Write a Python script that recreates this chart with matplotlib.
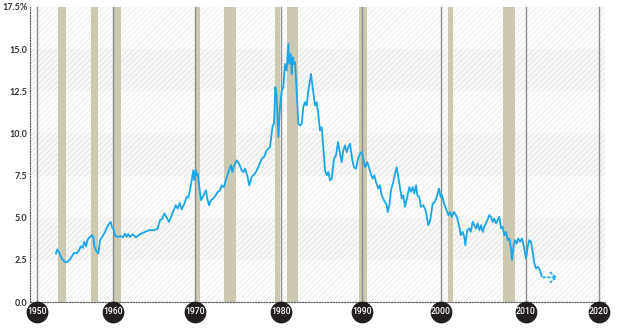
# 10-year yield with recession bands, decade markers as dark circles
import numpy as np
import matplotlib.pyplot as plt

plt.rcParams['hatch.linewidth'] = 0.5

# decade ticks and where they sit on the original (slightly uneven) axis
decades = [1950, 1960, 1970, 1980, 1990, 2000, 2010, 2020]
decade_pos = [37, 113, 195, 281, 362, 441, 526, 599]

# recession periods (start, end) in years
rec_start = [1952.76, 1957.11, 1960.0, 1970.0, 1973.37, 1979.30, 1980.74, 1989.62, 2000.82, 2007.29]
rec_end = [1953.82, 1958.03, 1960.98, 1970.58, 1974.77, 1979.88, 1982.10, 1990.63, 2001.41, 2008.71]

# yield series (%)
years = [1952.50, 1952.67, 1952.86, 1953.25, 1953.68, 1953.99, 1954.43, 1954.87, 1955.22, 1955.57,
         1955.75, 1956.01, 1956.22, 1956.45, 1956.67, 1956.97, 1957.24, 1957.41, 1957.54, 1957.86,
         1958.07, 1958.29, 1958.64, 1958.95, 1959.25, 1959.51, 1959.70, 1959.87, 1960.04, 1960.28,
         1960.65, 1960.94, 1961.18, 1961.46, 1961.67, 1961.87, 1962.07, 1962.40, 1962.80, 1963.29,
         1963.90, 1964.43, 1965.00, 1965.45, 1965.73, 1966.01, 1966.26, 1966.55, 1966.83, 1967.16,
         1967.48, 1967.65, 1967.89, 1968.13, 1968.38, 1968.70, 1968.99, 1969.18, 1969.39, 1969.60,
         1969.79, 1969.91, 1970.08, 1970.20, 1970.31, 1970.50, 1970.70, 1970.90, 1971.08, 1971.28,
         1971.43, 1971.63, 1971.86, 1972.13, 1972.41, 1972.64, 1972.91, 1973.10, 1973.37, 1973.57,
         1973.76, 1973.95, 1974.19, 1974.34, 1974.57, 1974.85, 1975.12, 1975.43, 1975.62, 1975.81,
         1976.08, 1976.31, 1976.59, 1976.98, 1977.36, 1977.76, 1978.02, 1978.34, 1978.72, 1979.03,
         1979.19, 1979.34, 1979.50, 1979.69, 1979.88, 1980.09, 1980.28, 1980.49, 1980.70, 1980.90,
         1981.02, 1981.20, 1981.32, 1981.44, 1981.60, 1981.73, 1981.94, 1982.14, 1982.35, 1982.56,
         1982.75, 1982.96, 1983.17, 1983.37, 1983.58, 1983.70, 1983.91, 1984.20, 1984.41, 1984.60,
         1984.81, 1985.02, 1985.22, 1985.43, 1985.64, 1985.84, 1986.05, 1986.26, 1986.54, 1986.79,
         1987.04, 1987.28, 1987.49, 1987.69, 1987.90, 1988.11, 1988.31, 1988.52, 1988.77, 1989.01,
         1989.26, 1989.51, 1989.75, 1989.96, 1990.16, 1990.38, 1990.67, 1990.92, 1991.18, 1991.35,
         1991.56, 1991.77, 1992.06, 1992.28, 1992.49, 1992.78, 1993.13, 1993.25, 1993.46, 1993.67,
         1993.96, 1994.18, 1994.39, 1994.59, 1994.81, 1995.03, 1995.23, 1995.44, 1995.73, 1995.99,
         1996.20, 1996.42, 1996.62, 1996.84, 1997.00, 1997.25, 1997.47, 1997.76, 1998.06, 1998.39,
         1998.61, 1998.95, 1999.21, 1999.46, 1999.75, 1999.96, 2000.12, 2000.35, 2000.59, 2000.86,
         2001.06, 2001.29, 2001.53, 2001.76, 2001.92, 2002.15, 2002.32, 2002.55, 2002.74, 2002.86,
         2003.09, 2003.33, 2003.49, 2003.73, 2003.92, 2004.12, 2004.32, 2004.51, 2004.71, 2004.91,
         2005.09, 2005.29, 2005.45, 2005.68, 2005.88, 2006.08, 2006.27, 2006.47, 2006.67, 2006.86,
         2007.06, 2007.26, 2007.45, 2007.65, 2007.85, 2008.04, 2008.20, 2008.35, 2008.51, 2008.71,
         2008.91, 2009.09, 2009.29, 2009.53, 2009.76, 2010.00, 2010.23, 2010.45, 2010.68, 2010.92,
         2011.14, 2011.37, 2011.60, 2011.82, 2012.15]
rates = [2.88, 3.12, 2.98, 2.58, 2.37, 2.37, 2.58, 2.92, 2.88, 3.08,
         3.31, 3.21, 3.57, 3.31, 3.71, 3.86, 3.96, 3.83, 3.31, 2.98,
         2.88, 3.67, 3.91, 4.16, 4.46, 4.66, 4.75, 4.42, 4.36, 3.91,
         3.86, 3.91, 3.83, 4.06, 3.86, 4.02, 3.86, 4.02, 3.83, 4.02,
         4.16, 4.26, 4.26, 4.36, 4.85, 4.95, 5.25, 5.01, 4.75, 5.15,
         5.54, 5.74, 5.54, 5.88, 5.49, 5.84, 6.23, 6.19, 6.63, 7.22,
         7.81, 7.22, 7.85, 7.51, 7.62, 6.82, 6.04, 6.23, 6.43, 6.63,
         6.14, 5.74, 6.04, 6.14, 6.33, 6.53, 6.63, 6.92, 6.82, 7.22,
         7.51, 7.81, 8.11, 7.71, 8.11, 8.40, 8.21, 7.81, 7.71, 7.91,
         7.51, 6.92, 7.42, 7.62, 8.00, 8.50, 8.60, 8.99, 9.19, 10.47,
         10.57, 12.74, 12.15, 9.78, 11.56, 12.54, 12.74, 14.12, 13.73, 15.31,
         14.12, 14.71, 13.53, 14.52, 14.12, 14.22, 12.44, 10.57, 10.47, 10.57,
         11.56, 11.85, 11.66, 12.54, 13.14, 13.53, 12.74, 11.66, 11.85, 11.17,
         10.18, 10.37, 9.19, 7.81, 7.51, 7.71, 7.22, 7.32, 8.50, 8.70,
         9.49, 8.80, 8.30, 8.99, 9.29, 8.89, 9.19, 9.39, 8.50, 8.00,
         7.91, 8.50, 8.80, 8.89, 8.50, 8.00, 8.30, 7.91, 7.51, 7.32,
         7.51, 7.12, 6.73, 6.92, 6.33, 6.04, 5.74, 5.34, 5.74, 6.63,
         7.12, 7.62, 8.00, 7.42, 6.82, 6.14, 6.33, 5.64, 6.23, 6.82,
         6.53, 6.82, 6.43, 6.92, 6.33, 6.23, 5.64, 5.74, 5.44, 4.56,
         4.80, 5.84, 5.93, 6.23, 6.73, 6.23, 6.33, 5.84, 5.54, 5.15,
         5.34, 5.05, 5.34, 5.15, 4.95, 4.46, 3.96, 4.16, 3.86, 3.37,
         4.26, 4.36, 4.16, 4.75, 4.56, 4.36, 4.66, 4.26, 4.56, 4.16,
         4.46, 4.66, 4.85, 5.15, 5.05, 4.75, 4.95, 4.66, 4.85, 5.05,
         4.36, 4.46, 3.96, 4.16, 3.67, 3.77, 3.27, 2.49, 3.27, 3.67,
         3.47, 3.77, 3.57, 3.77, 3.27, 2.58, 3.27, 3.67, 3.57, 2.98,
         2.29, 1.99, 2.09, 1.99, 1.54]

# dotted "outlook" arrow
fc_years = [2012.37, 2014.30]
fc_rates = [1.46, 1.46]

y_ticks = [0, 2.5, 5, 7.5, 10, 12.5, 15, 17.5]
y_labels = ['0.0', '2.5', '5.0', '7.5', '10.0', '12.5', '15.0', '17.5%']

blue = '#1ba6e8'
tan = '#ccc8b1'

# piecewise-linear x scale so decade lines land where the original has them
kx = [1900] + decades + [2100]
kp = [37 - 50 * 7.6] + decade_pos + [599 + 80 * 7.3]


def fwd(x):
    return np.interp(x, kx, kp)


def inv(p):
    return np.interp(p, kp, kx)


fig = plt.figure(figsize=(6.2, 3.28), dpi=100)
ax = fig.add_axes([30 / 620, 1 - 302 / 328, 575 / 620, 295 / 328])
ax.set_xscale('function', functions=(fwd, inv))
ax.set_xlim(inv(30), inv(605))
ax.set_ylim(0, 17.5)

# hatched background bands, every other one a touch darker
for i in range(7):
    dark = i % 2 == 1
    ax.axhspan(y_ticks[i], y_ticks[i + 1], facecolor='#fcfcfb' if not dark else '#f8f8f7',
               edgecolor='#e8e8e6' if not dark else '#dddddb', hatch='//////', lw=0, zorder=0)

for s, e in zip(rec_start, rec_end):
    ax.axvspan(s, e, color=tan, lw=0, zorder=1)

for d in decades:
    ax.axvline(d, ymin=-0.03, ymax=1, color='#8e8e8e', lw=1, zorder=2, clip_on=False)

ax.plot(years, rates, color=blue, lw=1.3, zorder=4)
ax.annotate('', xy=(fc_years[1], fc_rates[1]), xytext=(fc_years[0], fc_rates[0]),
            arrowprops=dict(arrowstyle='->,head_length=0.4,head_width=0.35', color=blue,
                            lw=1.3, linestyle=(0, (1, 1.5)), shrinkA=0, shrinkB=0,
                            mutation_scale=10), zorder=4)

# axes frame: dotted left and bottom
for side in ['top', 'right']:
    ax.spines[side].set_visible(False)
for side in ['left', 'bottom']:
    ax.spines[side].set_linestyle((0, (1, 1.5)))
    ax.spines[side].set_color('#555555')
    ax.spines[side].set_linewidth(0.8)
    ax.spines[side].set_zorder(3)

ax.set_yticks(y_ticks)
ax.set_yticklabels(y_labels, fontsize=6.5, fontweight='bold', color='#333333', family='Lato')
ax.tick_params(axis='y', length=0, pad=2)
ax.set_xticks([])

# decade labels: white text on dark circles below the axis
trans = ax.get_xaxis_transform()
lab_y = -10 / 295
ax.scatter(decades, [lab_y] * len(decades), s=245, color='#231f20', transform=trans,
           clip_on=False, zorder=8, linewidths=0)
for d in decades:
    ax.text(d, lab_y, str(d), transform=trans, ha='center', va='center', color='white',
            fontsize=6.2, family='Roboto', fontweight='medium', zorder=10, clip_on=False)

fig.savefig('out.png', dpi=100)
